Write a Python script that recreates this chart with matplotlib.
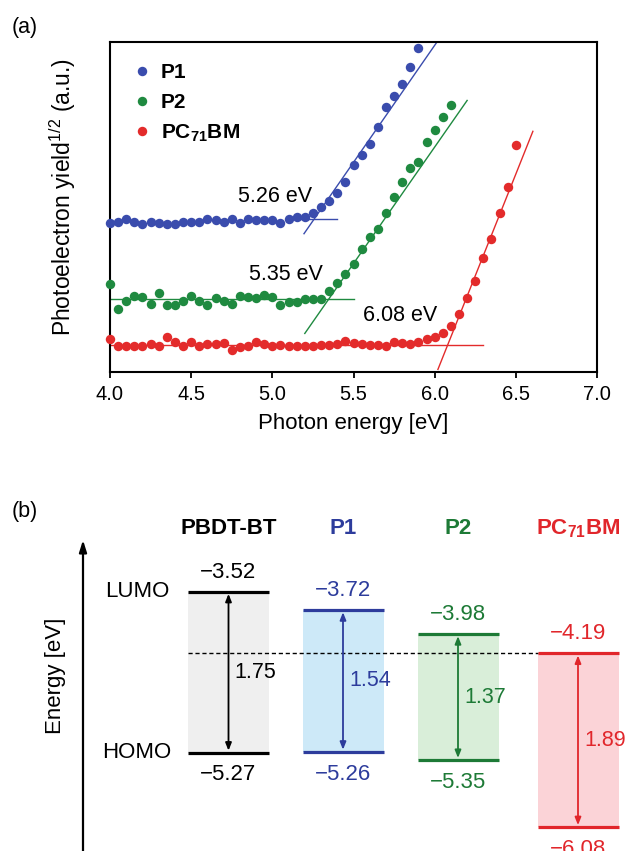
# photoelectron yield spectra (a) and energy level diagram (b)
import numpy as np
import matplotlib.pyplot as plt

plt.rcParams['font.family'] = ['Liberation Sans', 'DejaVu Sans']
plt.rcParams['mathtext.default'] = 'regular'

# ---- (a) data (yield^1/2, a.u.) ----
energy = [4.00, 4.05, 4.10, 4.15, 4.20, 4.25, 4.30, 4.35, 4.40, 4.45,
          4.50, 4.55, 4.60, 4.65, 4.70, 4.75, 4.80, 4.85, 4.90, 4.95,
          5.00, 5.05, 5.10, 5.15, 5.20, 5.25, 5.30, 5.35, 5.40, 5.45,
          5.50, 5.55, 5.60, 5.65, 5.70, 5.75, 5.80, 5.85, 5.90, 5.95,
          6.00, 6.05, 6.10, 6.15, 6.20, 6.25, 6.30, 6.35, 6.40, 6.45,
          6.50]

yield_p1 = [14.9, 15.0, 15.3, 15.0, 14.8, 15.0, 14.9, 14.8, 14.8, 15.0,
            15.0, 15.0, 15.3, 15.2, 15.0, 15.3, 14.9, 15.3, 15.2, 15.2,
            15.2, 14.9, 15.3, 15.5, 15.5, 15.9, 16.5, 17.1, 17.9, 19.0,
            20.7, 21.7, 22.8, 24.5, 26.5, 27.6, 28.8, 30.5, 32.4]
yield_p2 = [8.8, 6.3, 7.1, 7.6, 7.5, 6.8, 7.9, 6.7, 6.7, 7.1,
            7.6, 7.1, 6.7, 7.4, 7.1, 6.8, 7.6, 7.5, 7.4, 7.7,
            7.5, 6.7, 7.0, 7.0, 7.3, 7.3, 7.3, 8.1, 8.9, 9.8,
            10.8, 12.3, 13.5, 14.3, 15.9, 17.5, 19.0, 20.4, 21.0, 23.0,
            24.2, 25.5, 26.7]
yield_pcbm = [3.3, 2.6, 2.6, 2.6, 2.6, 2.8, 2.6, 3.5, 3.0, 2.6,
              3.0, 2.6, 2.8, 2.8, 2.9, 2.2, 2.5, 2.6, 3.0, 2.8,
              2.6, 2.7, 2.6, 2.6, 2.6, 2.6, 2.7, 2.7, 2.8, 3.1,
              2.9, 2.8, 2.7, 2.7, 2.6, 3.0, 2.9, 2.8, 3.0, 3.3,
              3.5, 3.9, 4.6, 5.8, 7.4, 9.1, 11.4, 13.3, 15.9, 18.5,
              22.7]

series_names = ['P1', 'P2', 'PC$_{71}$BM']
series_y = [yield_p1, yield_p2, yield_pcbm]
dot_colors = ['#3a4cad', '#1f8a40', '#e32b2b']

# threshold fits: onset, background level, slope, extents
onset = [5.26, 5.35, 6.08]
background = [15.35, 7.35, 2.7]
slope = [23.4, 23.3, 40.7]
bg_span = [(5.17, 5.40), (4.0, 5.5), (4.0, 6.3)]
fit_span = [(5.195, 6.02), (5.20, 6.20), (6.02, 6.605)]
onset_label_xy = [(5.017, 17.55), (5.081, 9.75), (5.787, 5.65)]

# ---- (b) energy levels ----
materials = ['PBDT-BT', 'P1', 'P2', 'PC$_{71}$BM']
lumo = [-3.52, -3.72, -3.98, -4.19]
homo = [-5.27, -5.26, -5.35, -6.08]
line_colors = ['black', '#2d3c9c', '#1d7a36', '#e1262b']
fill_colors = ['#efefef', '#cde9f8', '#d9eed9', '#fbd3d7']

fig = plt.figure(figsize=(6.27, 8.51), dpi=100)

# ================= panel (a) =================
ax = fig.add_axes([110/627, 1-372/851, 487/627, 330/851])
for i in range(3):
    y = series_y[i]
    ax.plot(energy[:len(y)], y, 'o', ms=6.8, mew=0, color=dot_colors[i],
            label=series_names[i], clip_on=False, zorder=3)
    xb = np.array(bg_span[i])
    ax.plot(xb, [background[i]]*2, color=dot_colors[i], lw=1.0, zorder=2)
    xf = np.array(fit_span[i])
    ax.plot(xf, background[i] + slope[i]*(xf - onset[i]),
            color=dot_colors[i], lw=1.0, zorder=2)
    ax.text(onset_label_xy[i][0], onset_label_xy[i][1], f'{onset[i]:.2f} eV',
            ha='center', va='center', fontsize=15.5)

ax.set_xlim(4.0, 7.0)
ax.set_ylim(0, 33)
ax.set_xticks([4.0, 4.5, 5.0, 5.5, 6.0, 6.5, 7.0])
ax.set_xticklabels(['4.0', '4.5', '5.0', '5.5', '6.0', '6.5', '7.0'])
ax.set_yticks([])
ax.tick_params(axis='x', direction='out', length=4, width=1.3,
               labelsize=14.5, pad=5)
for s in ax.spines.values():
    s.set_linewidth(1.5)
ax.set_xlabel('Photon energy [eV]', fontsize=16, labelpad=7)
ax.set_ylabel('Photoelectron yield$^{1/2}$ (a.u.)', fontsize=16.5)
ax.yaxis.set_label_coords(-0.066, 0.53)
ax.legend(loc='upper left', bbox_to_anchor=(0.045, 0.935), frameon=False,
          prop={'weight': 'bold', 'size': 15}, handlelength=1.0,
          handletextpad=0.4, labelspacing=0.5, borderpad=0,
          borderaxespad=0, numpoints=1)

fig.text(12/627, 1-27/851, '(a)', ha='left', va='center', fontsize=15.5)
fig.text(12/627, 1-511/851, '(b)', ha='left', va='center', fontsize=15.5)

# ================= panel (b) =================
bx = fig.add_axes([0, 0, 1, 351/851])
bx.set_xlim(0, 627)
bx.set_ylim(-6.338, -2.523)
bx.axis('off')

xc = [228.5, 343, 458, 578]
half = 40.5

bx.hlines(lumo[3], xc[0]-half, xc[3]-half, colors='black', lw=1.0,
          linestyles=(0, (3, 2)), zorder=1)

for i in range(4):
    c = line_colors[i]
    bx.fill_between([xc[i]-half, xc[i]+half], homo[i], lumo[i],
                    color=fill_colors[i], lw=0, zorder=0)
    bx.hlines([lumo[i], homo[i]], xc[i]-half, xc[i]+half, colors=c,
              lw=2.3, zorder=2)
    bx.annotate('', xy=(xc[i], homo[i]), xytext=(xc[i], lumo[i]),
                arrowprops=dict(arrowstyle='<|-|>,head_length=0.45,head_width=0.18',
                                color=c, lw=1.3, shrinkA=1.5, shrinkB=1.5),
                zorder=3)
    bx.annotate(f'\u2212{abs(lumo[i]):.2f}', xy=(xc[i], lumo[i]),
                xytext=(0, 14), textcoords='offset points',
                ha='center', va='center', fontsize=16, color=c)
    bx.annotate(f'\u2212{abs(homo[i]):.2f}', xy=(xc[i], homo[i]),
                xytext=(0, -16), textcoords='offset points',
                ha='center', va='center', fontsize=16, color=c)
    bx.text(xc[i]+6, (lumo[i]+homo[i])/2, f'{lumo[i]-homo[i]:.2f}',
            ha='left', va='center', fontsize=15.5, color=c)
    bx.text(xc[i], -2.833, materials[i], ha='center', va='center',
            fontsize=16, fontweight='bold', color=c)

bx.text(137, lumo[0], 'LUMO', ha='center', va='center', fontsize=16)
bx.text(137, homo[0], 'HOMO', ha='center', va='center', fontsize=16)

bx.annotate('', xy=(83, -2.958), xytext=(83, -6.338),
            arrowprops=dict(arrowstyle='-|>,head_length=0.7,head_width=0.22',
                            color='black', lw=1.6, shrinkA=0, shrinkB=0))
bx.text(56, -4.433, 'Energy [eV]', rotation=90, ha='center', va='center',
        fontsize=16)

fig.savefig('out.png', dpi=100)
